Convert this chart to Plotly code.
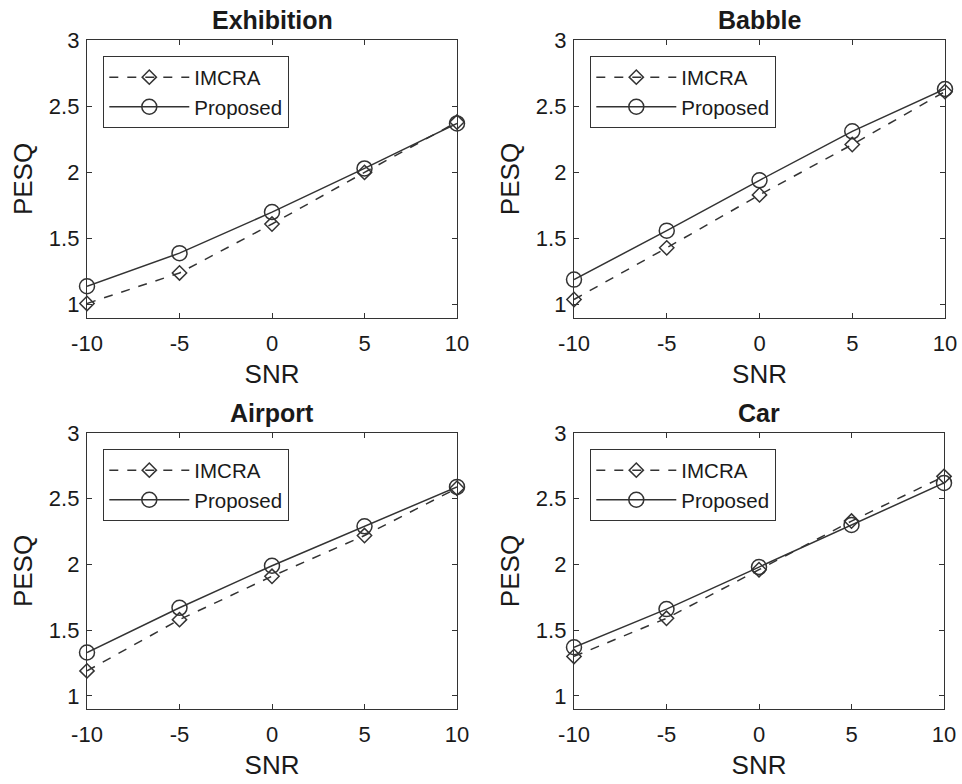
import plotly.graph_objects as go

snr = [-10, -5, 0, 5, 10]
titles = ["Exhibition", "Babble", "Airport", "Car"]
imcra = {
    "Exhibition": [1.01, 1.24, 1.61, 2.00, 2.38],
    "Babble": [1.04, 1.43, 1.83, 2.21, 2.61],
    "Airport": [1.19, 1.58, 1.91, 2.22, 2.58],
    "Car": [1.30, 1.59, 1.96, 2.33, 2.67],
}
proposed = {
    "Exhibition": [1.14, 1.39, 1.70, 2.03, 2.37],
    "Babble": [1.19, 1.56, 1.94, 2.31, 2.63],
    "Airport": [1.33, 1.67, 1.99, 2.29, 2.59],
    "Car": [1.37, 1.66, 1.98, 2.30, 2.62],
}
xtick_vals = [-10, -5, 0, 5, 10]
xtick_text = ["-10", "-5", "0", "5", "10"]
ytick_vals = [1, 1.5, 2, 2.5, 3]
ytick_text = ["1", "1.5", "2", "2.5", "3"]

W, H = 962, 784
FONT = "Liberation Sans, Arial, sans-serif"
INK = "#333333"
TXT = "#1a1a1a"

# pixel boxes of each panel (left, right, top, bottom)
boxes = [(87, 457, 40, 318), (574, 945, 40, 318),
         (87, 457, 433, 709), (574, 944, 433, 709)]

fig = go.Figure()
annotations = []
for i, name in enumerate(titles):
    k = "" if i == 0 else str(i + 1)
    l, r, t, b = boxes[i]
    xd = [l / W, r / W]
    yd = [1 - b / H, 1 - t / H]
    leg = "legend" if i == 0 else f"legend{i+1}"
    fig.add_trace(go.Scatter(
        x=snr, y=imcra[name], name="IMCRA", mode="lines+markers", cliponaxis=False,
        line=dict(color=INK, width=1.5, dash="dash"),
        marker=dict(symbol="diamond-open", size=11, color=INK, line=dict(width=1.5)),
        xaxis="x" + k, yaxis="y" + k, legend=leg, showlegend=True))
    fig.add_trace(go.Scatter(
        x=snr, y=proposed[name], name="Proposed", mode="lines+markers", cliponaxis=False,
        line=dict(color=INK, width=1.5),
        marker=dict(symbol="circle-open", size=15, color=INK, line=dict(width=1.5)),
        xaxis="x" + k, yaxis="y" + k, legend=leg, showlegend=True))
    axcommon = dict(showgrid=False, zeroline=False, showline=True, linecolor=INK,
                    linewidth=1.3, mirror="ticks", ticks="inside", ticklen=5,
                    tickcolor=INK, automargin=False,
                    tickfont=dict(family=FONT, size=22, color=TXT))
    fig.update_layout(**{
        "xaxis" + k: dict(domain=xd, anchor="y" + k, range=[-10, 10],
                          tickvals=xtick_vals, ticktext=xtick_text, ticklabelstandoff=5,
                          title=dict(text="SNR", font=dict(family=FONT, size=26, color=TXT), standoff=10),
                          **axcommon),
        "yaxis" + k: dict(domain=yd, anchor="x" + k, range=[0.9, 3],
                          tickvals=ytick_vals, ticktext=ytick_text, ticklabelstandoff=2,
                          title=dict(text="PESQ", font=dict(family=FONT, size=26, color=TXT), standoff=8),
                          **axcommon),
        leg: dict(x=(l + 16) / W, y=1 - (t + 16) / H, xanchor="left", yanchor="top",
                  bgcolor="white", bordercolor=INK, borderwidth=1.3,
                  font=dict(family=FONT, size=20.5, color=TXT),
                  itemwidth=80, tracegroupgap=0),
    })
    annotations.append(dict(text="<b>" + name + "</b>", x=(l + r) / 2 / W, y=1 - (t - 20) / H,
                            xref="paper", yref="paper", showarrow=False,
                            xanchor="center", yanchor="middle",
                            font=dict(family=FONT, size=25, color=TXT)))

fig.update_layout(template="none", width=W, height=H, margin=dict(l=0, r=0, t=0, b=0),
                  paper_bgcolor="white", plot_bgcolor="white",
                  annotations=annotations)
fig.write_html("out.html", config={"displayModeBar": False},
               post_script="document.body.style.margin='0';document.body.style.overflow='hidden';")
